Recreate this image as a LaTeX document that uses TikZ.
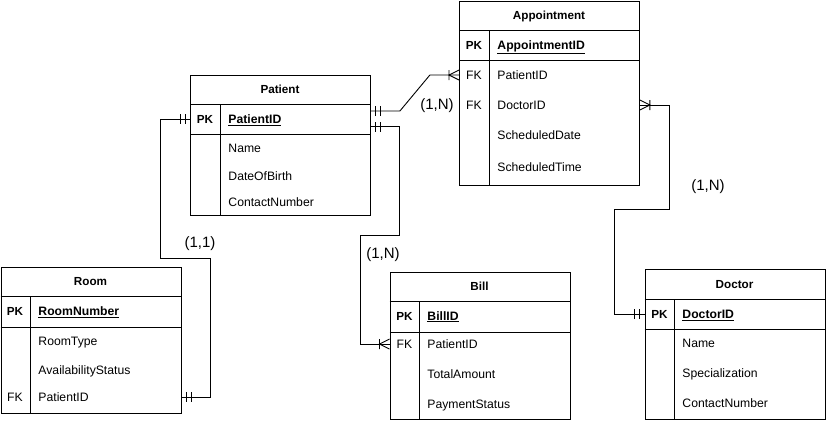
\documentclass[tikz,border=0pt]{standalone}
\usepackage{xcolor}
\usepackage{fontspec}
\setmainfont{Liberation Sans}
\usepackage{tikz}
\usetikzlibrary{calc,decorations.markings}

\tikzset{
  tbl/.style={draw, minimum width=180pt, inner sep=0pt, anchor=north west},
  head/.style={font=\fontsize{11.7}{13}\selectfont\bfseries},
  key/.style={font=\fontsize{11.7}{13}\selectfont\bfseries},
  fkey/.style={},
  attr/.style={anchor=west, inner sep=0pt},
  card/.style={font=\fontsize{15}{17}\selectfont, text height=10.5pt},
  one start/.style={postaction={decorate,decoration={markings,
      mark=at position 5pt with {\draw (0pt,-5pt) -- (0pt,5pt);},
      mark=at position 10pt with {\draw (0pt,-5pt) -- (0pt,5pt);}}}},
  one end/.style={postaction={decorate,decoration={markings,
      mark=at position -10pt with {\draw (0pt,-5pt) -- (0pt,5pt);},
      mark=at position -5pt with {\draw (0pt,-5pt) -- (0pt,5pt);}}}},
  many start/.style={postaction={decorate,decoration={markings,
      mark=at position 10pt with {\draw (0pt,-5pt) -- (0pt,5pt)
        (-10pt,-5pt) -- (0pt,0pt) -- (-10pt,5pt);}}}},
  many end/.style={postaction={decorate,decoration={markings,
      mark=at position -10pt with {\draw (0pt,-5pt) -- (0pt,5pt)
        (10pt,-5pt) -- (0pt,0pt) -- (10pt,5pt);}}}},
}

\begin{document}
\begin{tikzpicture}[x=1pt,y=-1pt,line width=0.9pt,
  every node/.style={font=\fontsize{12.2}{14}\selectfont, text height=8.5pt, text depth=0pt}]
\useasboundingbox (0,0) rectangle (826,421);

\node[tbl, minimum height=140pt] (patient-box) at (190,75) {};
\draw (190,104) -- ++(180,0) (190,134) -- ++(180,0) (220,104) -- (220,215);
\node[head] (patient) at (280,89) {Patient};
\node[key] (patient-pk) at (205,119) {PK};
\node[attr] (patient-id) at (228,119) {\bfseries\underline{PatientID}};
\foreach \y/\t in {148/Name,176/DateOfBirth,202/ContactNumber}
  \node[attr] (patient-\t) at (228,\y) {\t};

\node[tbl, minimum height=184pt] (appt-box) at (459,1) {};
\draw (459,30) -- ++(180,0) (459,60) -- ++(180,0) (489,30) -- (489,185);
\node[head] (appt) at (549,15) {Appointment};
\node[key] (appt-pk) at (474,45) {PK};
\node[attr] (appt-id) at (497,45) {\bfseries\underline{AppointmentID}};
\node[fkey] (appt-fk1) at (474,75) {FK};
\node[fkey] (appt-fk2) at (474,105) {FK};
\foreach \y/\t in {75/PatientID,105/DoctorID,135/ScheduledDate,167/ScheduledTime}
  \node[attr] (appt-\t) at (497,\y) {\t};

\node[tbl, minimum height=146pt] (room-box) at (0.5,267) {};
\draw (0.5,296) -- ++(180,0) (0.5,327) -- ++(180,0) (30.5,296) -- (30.5,413);
\node[head] (room) at (90.5,281) {Room};
\node[key] (room-pk) at (15,311) {PK};
\node[attr] (room-id) at (38,311) {\bfseries\underline{RoomNumber}};
\node[fkey] (room-fk) at (15,397) {FK};
\foreach \y/\t in {341/RoomType,370/AvailabilityStatus,397/PatientID}
  \node[attr] (room-\t) at (38,\y) {\t};

\node[tbl, minimum height=147pt] (bill-box) at (389.5,272) {};
\draw (389.5,301) -- ++(180,0) (389.5,332) -- ++(180,0) (419.5,301) -- (419.5,419);
\node[head] (bill) at (479.5,286) {Bill};
\node[key] (bill-pk) at (404.5,316) {PK};
\node[attr] (bill-id) at (427,316) {\bfseries\underline{BillID}};
\node[fkey] (bill-fk) at (404.5,344) {FK};
\foreach \y/\t in {344/PatientID,374/TotalAmount,404/PaymentStatus}
  \node[attr] (bill-\t) at (427,\y) {\t};

\node[tbl, minimum height=150pt] (doc-box) at (644.5,269) {};
\draw (644.5,299) -- ++(180,0) (644.5,329) -- ++(180,0) (674.5,299) -- (674.5,419);
\node[head] (doc) at (734.5,284) {Doctor};
\node[key] (doc-pk) at (659.5,314) {PK};
\node[attr] (doc-id) at (682,314) {\bfseries\underline{DoctorID}};
\foreach \y/\t in {343/Name,373/Specialization,403/ContactNumber}
  \node[attr] (doc-\t) at (682,\y) {\t};

\draw[one start, many end] ($(patient-box.east |- patient-id)+(0,-8)$) -- ++(29,0)
  -- ++(30,-36) -- (appt-box.west |- appt-PatientID);
\draw[one start, many end] ($(patient-box.east |- patient-id)+(0,7.5)$) -- ++(29,0)
  -- ++(0,109) -- ++(-39,0) |- (bill-box.west |- bill-PatientID);
\draw[one start, one end] (patient-box.west |- patient-id) -- ++(-30,0)
  -- ++(0,139) -- ++(50,0) |- (room-box.east |- room-PatientID);
\draw[many start, one end] (appt-box.east |- appt-DoctorID) -- ++(30,0)
  -- ++(0,104) -- ++(-55,0) |- (doc-box.west |- doc-id);

\node[card] (card-pa) at (437,104) {(1,N)};
\node[card] (card-pb) at (383,253) {(1,N)};
\node[card] (card-pr) at (200,242) {(1,1)};
\node[card] (card-ad) at (708,185) {(1,N)};
\end{tikzpicture}
\end{document}
